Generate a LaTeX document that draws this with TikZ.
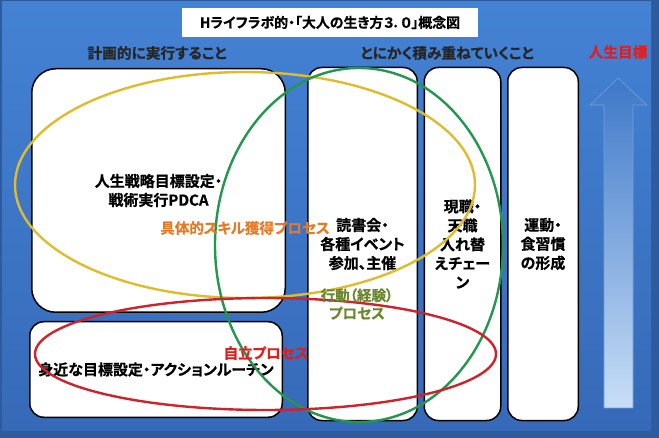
\documentclass[tikz,border=0pt]{standalone}
\usepackage{fontspec}
\newfontfamily\jp{Noto Sans CJK JP}[BoldFont={* Bold}, BoldFeatures={FakeBold=0.6}, RawFeature={+palt}]
\usetikzlibrary{positioning}

\definecolor{bg-top}{RGB}{68,130,212}
\definecolor{bg-bottom}{RGB}{54,106,184}
\definecolor{bg-frame}{RGB}{46,90,158}
\definecolor{arrow-top}{RGB}{62,120,200}
\definecolor{arrow-bottom}{RGB}{200,222,246}
\definecolor{arrow-edge}{RGB}{110,160,220}
\definecolor{yellow-line}{RGB}{222,188,45}
\definecolor{green-line}{RGB}{35,150,80}
\definecolor{red-line}{RGB}{205,35,45}
\definecolor{skill-orange}{RGB}{232,120,35}
\definecolor{action-green}{RGB}{105,135,45}
\definecolor{self-red}{RGB}{225,30,30}

\tikzstyle{title-block} = [fill=white, rectangle, minimum width=296pt, minimum height=29pt, font=\jp\bfseries\fontsize{13.9}{16}\selectfont]
\tikzstyle{head-label} = [font=\jp\bfseries\fontsize{14.7}{17}\selectfont, text=black!85]
\tikzstyle{block} = [draw, line width=1.5pt, fill=white, rectangle, rounded corners=14pt, align=center, inner sep=0pt, font=\jp\bfseries\fontsize{15}{19}\selectfont]
\tikzstyle{plan-block} = [block, rounded corners=24pt]
\tikzstyle{column-block} = [block, minimum height=353pt]
\tikzstyle{process} = [line width=2.4pt]
\tikzstyle{process-label} = [font=\jp\bfseries\fontsize{14.5}{18}\selectfont, align=center]

\begin{document}
\begin{tikzpicture}[x=1pt, y=-1pt]
	\useasboundingbox (0,0) rectangle (659,438);
	\fill [bg-frame] (0,0) rectangle (659,438);
	\shade [top color=bg-top, bottom color=bg-bottom] (2,2) rectangle (651,430);

	\node [title-block] (title) at (330,22.5) {Hライフラボ的・「大人の生き方３．０」概念図};
	\node [head-label] (plan-head) at (157,53) {計画的に実行すること};
	\node [head-label] (stack-head) at (447,53) {とにかく積み重ねていくこと};
	\node [head-label, text=self-red] (goal) at (618,52) {人生目標};

	\node [plan-block, minimum width=253.5pt, minimum height=243.5pt] (plan) at (158.5,190.5) {人生戦略目標設定・\\戦術実行PDCA};
	\node [block, minimum width=252.5pt, minimum height=95.5pt] (routine) at (156,369.5) {身近な目標設定・アクションルーチン};
	\node [column-block, minimum width=109.5pt] (reading) at (362.5,244) {読書会・\\各種イベント\\参加、主催};
	\node [column-block, minimum width=76.5pt, right=5.5pt of reading] (job) {現職・\\天職\\入れ替\\えチェー\\ン};
	\node [column-block, minimum width=70.5pt, right=5.5pt of job] (habit) {運動・\\食習慣\\の形成};

	\coordinate (arrow-tip) at (618,78);
	\shade [top color=arrow-top, bottom color=arrow-bottom, draw=arrow-edge, line width=0.6pt] (arrow-tip) -- (647,105) -- (633,105) -- (633,408) -- (604,408) -- (604,105) -- (590,105) -- cycle;

	\draw [process, yellow-line] (245,185) ellipse [x radius=230pt, y radius=113pt];
	\draw [process, green-line] (359,245) ellipse [x radius=144pt, y radius=177pt];
	\draw [process, red-line] (265.5,354) ellipse [x radius=230.5pt, y radius=56pt];

	\node [process-label, text=skill-orange] (skill) at (245,228) {具体的スキル獲得プロセス};
	\node [process-label, text=action-green] (action) at (357,304) {行動（経験）\\プロセス};
	\node [process-label, text=self-red] (self) at (266,353) {自立プロセス};

\end{tikzpicture}
\end{document}
